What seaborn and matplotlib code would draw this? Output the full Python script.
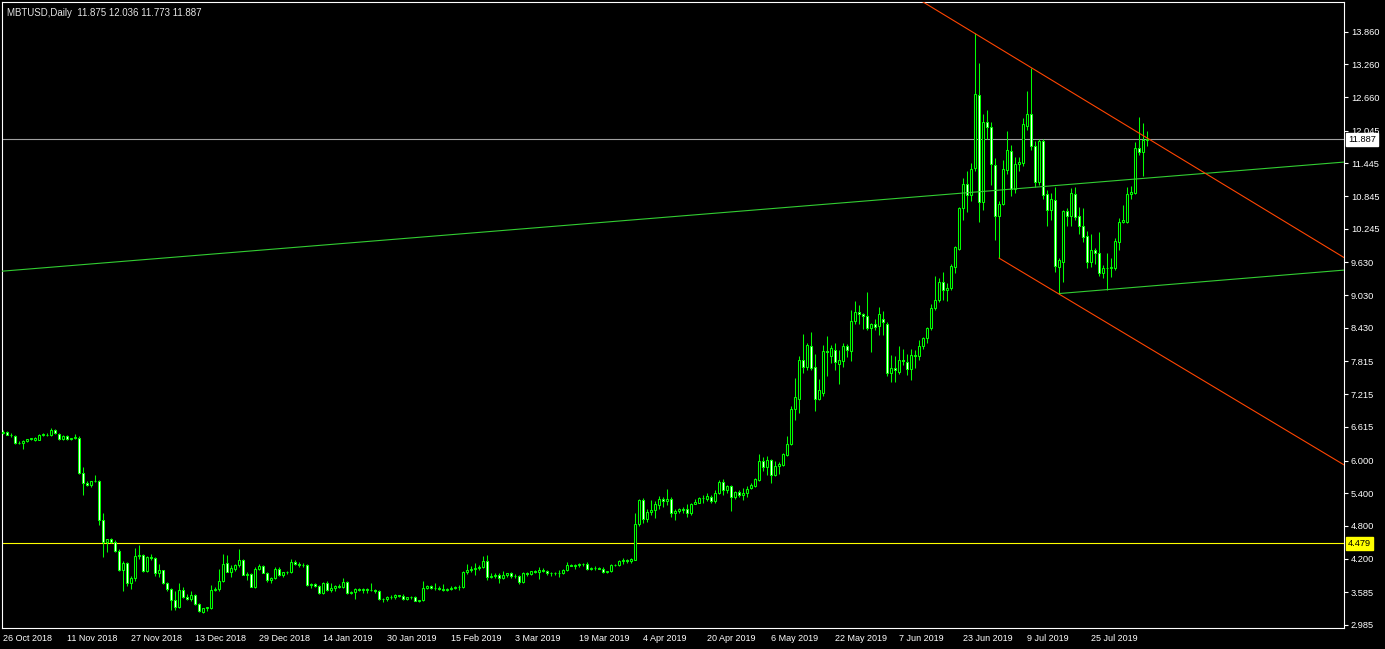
import numpy as np
import pandas as pd
import matplotlib
matplotlib.use("Agg")
import matplotlib.pyplot as plt
import matplotlib.transforms as mtransforms
import seaborn as sns

# header text of the chart window
symbol_text = "MBTUSD,Daily  11.875 12.036 11.773 11.887"

# daily candles, 26 Oct 2018 .. 8 Aug 2019
opens = [
    6.50, 6.53, 6.47, 6.45, 6.32, 6.32, 6.36, 6.39, 6.38, 6.38,
    6.47, 6.47, 6.47, 6.56, 6.49, 6.39, 6.45, 6.39, 6.41, 6.42,
    5.77, 5.59, 5.55, 5.62, 5.63, 4.91, 4.50, 4.56, 4.51, 4.35,
    3.99, 4.13, 3.76, 3.84, 4.25, 4.26, 3.98, 4.24, 4.22, 3.93,
    3.99, 3.76, 3.64, 3.44, 3.32, 3.62, 3.50, 3.46, 3.53, 3.37,
    3.23, 3.29, 3.30, 3.63, 3.64, 3.79, 4.13, 3.96, 4.02, 4.08,
    4.18, 3.91, 3.92, 3.69, 4.02, 4.07, 3.94, 3.81, 3.85, 4.02,
    3.90, 3.95, 3.96, 4.14, 4.11, 4.09, 4.08, 3.72, 3.73, 3.70,
    3.58, 3.75, 3.63, 3.66, 3.70, 3.69, 3.78, 3.58, 3.59, 3.64,
    3.62, 3.65, 3.63, 3.62, 3.60, 3.46, 3.47, 3.50, 3.50, 3.53,
    3.51, 3.46, 3.49, 3.50, 3.43, 3.44, 3.67, 3.70, 3.66, 3.67,
    3.65, 3.63, 3.65, 3.67, 3.69, 3.68, 3.96, 3.99, 4.02, 4.03,
    4.05, 4.16, 3.87, 3.88, 3.90, 3.84, 3.90, 3.93, 3.89, 3.88,
    3.78, 3.93, 3.92, 3.97, 3.96, 3.99, 3.98, 3.93, 3.94, 3.93,
    3.93, 4.00, 4.08, 4.07, 4.09, 4.10, 4.11, 4.02, 4.03, 4.03,
    4.02, 3.95, 3.97, 4.08, 4.09, 4.16, 4.17, 4.15, 4.18, 4.83,
    5.28, 4.92, 5.06, 5.09, 5.19, 5.29, 5.25, 5.29, 5.04, 5.07,
    5.11, 5.11, 5.03, 5.21, 5.23, 5.32, 5.30, 5.33, 5.25, 5.40,
    5.61, 5.46, 5.53, 5.33, 5.42, 5.36, 5.41, 5.50, 5.54, 5.64,
    5.99, 5.89, 6.01, 5.73, 5.90, 5.92, 6.11, 6.30, 6.94, 7.13,
    7.84, 7.72, 8.10, 7.71, 7.12, 7.23, 8.01, 7.92, 8.02, 7.77,
    7.83, 8.10, 8.00, 8.55, 8.73, 8.68, 8.65, 8.42, 8.50, 8.47,
    8.60, 8.50, 7.61, 7.69, 7.63, 7.85, 7.80, 7.68, 7.93, 7.92,
    8.10, 8.24, 8.42, 8.79, 8.94, 9.27, 9.12, 9.16, 9.55, 9.88,
    10.62, 11.07, 10.87, 11.36, 12.70, 10.74, 12.20, 12.11, 11.42, 10.49,
    10.71, 11.32, 11.67, 10.98, 11.43, 11.46, 12.14, 12.35, 11.77, 11.11,
    11.85, 10.88, 10.59, 10.77, 9.55, 9.64, 10.57, 10.49, 10.88, 10.48,
    10.30, 10.11, 9.63, 9.86, 9.80, 9.43, 9.52, 9.53, 9.53, 10.01,
    10.38, 10.38, 10.88, 10.91, 11.73, 11.65, 11.875,
]
highs = [
    6.55, 6.54, 6.50, 6.47, 6.35, 6.37, 6.40, 6.42, 6.44, 6.49,
    6.50, 6.50, 6.60, 6.58, 6.50, 6.46, 6.46, 6.42, 6.49, 6.45,
    5.88, 5.62, 5.63, 5.74, 5.64, 5.03, 4.56, 4.58, 4.54, 4.37,
    4.15, 4.14, 3.88, 4.39, 4.45, 4.28, 4.25, 4.29, 4.24, 4.10,
    4.00, 3.78, 3.66, 3.60, 3.75, 3.68, 3.55, 3.61, 3.55, 3.39,
    3.30, 3.32, 3.72, 3.68, 4.02, 4.29, 4.26, 4.08, 4.10, 4.37,
    4.20, 3.96, 3.93, 4.05, 4.10, 4.09, 3.96, 3.86, 4.05, 4.04,
    3.96, 3.98, 4.20, 4.18, 4.14, 4.12, 4.10, 3.76, 3.76, 3.72,
    3.77, 3.79, 3.75, 3.72, 3.73, 3.84, 3.80, 3.61, 3.66, 3.67,
    3.66, 3.67, 3.75, 3.65, 3.62, 3.48, 3.52, 3.54, 3.56, 3.54,
    3.56, 3.50, 3.51, 3.52, 3.45, 3.79, 3.71, 3.72, 3.75, 3.70,
    3.73, 3.66, 3.70, 3.70, 3.72, 3.97, 4.10, 4.07, 4.12, 4.08,
    4.25, 4.27, 3.93, 3.94, 3.93, 3.97, 3.94, 3.95, 3.92, 3.90,
    3.95, 3.96, 3.98, 4.00, 4.05, 4.03, 4.00, 3.96, 3.96, 4.00,
    4.02, 4.14, 4.11, 4.11, 4.12, 4.13, 4.14, 4.05, 4.06, 4.05,
    4.05, 3.98, 4.10, 4.11, 4.18, 4.21, 4.19, 4.22, 5.04, 5.30,
    5.32, 5.12, 5.28, 5.25, 5.35, 5.34, 5.48, 5.34, 5.12, 5.13,
    5.15, 5.21, 5.23, 5.29, 5.33, 5.37, 5.40, 5.36, 5.46, 5.64,
    5.66, 5.56, 5.55, 5.44, 5.46, 5.49, 5.53, 5.59, 5.68, 6.12,
    6.07, 6.08, 6.03, 6.00, 5.98, 6.13, 6.45, 7.00, 7.52, 7.92,
    8.32, 8.16, 8.36, 7.95, 7.49, 8.12, 8.28, 8.12, 8.15, 8.02,
    8.16, 8.13, 8.76, 8.92, 8.85, 8.71, 9.08, 8.52, 8.60, 8.81,
    8.74, 8.54, 7.93, 7.91, 8.10, 8.04, 7.95, 8.04, 8.02, 8.21,
    8.27, 8.45, 8.87, 9.38, 9.34, 9.45, 9.25, 9.60, 9.93, 10.65,
    11.17, 11.31, 11.45, 13.83, 13.29, 12.36, 12.42, 12.20, 11.55, 10.75,
    11.51, 12.04, 11.78, 11.57, 11.57, 12.27, 12.77, 13.19, 11.85, 11.90,
    11.90, 10.95, 10.90, 11.02, 9.72, 10.60, 10.62, 10.99, 11.02, 10.65,
    10.62, 10.20, 10.16, 9.89, 10.18, 9.58, 9.80, 9.71, 10.07, 10.44,
    10.68, 11.02, 11.03, 11.84, 12.29, 12.18, 12.036,
]
lows = [
    6.48, 6.46, 6.44, 6.30, 6.30, 6.22, 6.34, 6.38, 6.36, 6.37,
    6.45, 6.45, 6.45, 6.49, 6.38, 6.37, 6.38, 6.38, 6.40, 5.76,
    5.37, 5.53, 5.52, 5.60, 4.82, 4.24, 4.33, 4.48, 4.33, 3.98,
    3.60, 3.70, 3.65, 3.80, 4.20, 3.96, 3.95, 4.18, 3.88, 3.87,
    3.74, 3.60, 3.26, 3.26, 3.30, 3.48, 3.44, 3.43, 3.35, 3.22,
    3.20, 3.25, 3.28, 3.60, 3.60, 3.77, 3.95, 3.87, 3.98, 4.05,
    3.90, 3.81, 3.68, 3.67, 4.00, 3.93, 3.78, 3.76, 3.83, 3.88,
    3.87, 3.92, 3.94, 4.08, 4.05, 4.04, 3.70, 3.67, 3.68, 3.56,
    3.55, 3.60, 3.59, 3.60, 3.66, 3.66, 3.56, 3.55, 3.47, 3.60,
    3.58, 3.58, 3.61, 3.58, 3.45, 3.41, 3.43, 3.46, 3.46, 3.50,
    3.45, 3.44, 3.47, 3.42, 3.40, 3.42, 3.64, 3.64, 3.63, 3.62,
    3.61, 3.61, 3.62, 3.64, 3.62, 3.66, 3.92, 3.95, 3.90, 3.99,
    4.03, 3.81, 3.84, 3.84, 3.75, 3.82, 3.87, 3.84, 3.85, 3.74,
    3.76, 3.89, 3.90, 3.93, 3.83, 3.95, 3.91, 3.88, 3.91, 3.86,
    3.92, 3.98, 4.06, 4.02, 4.05, 4.07, 3.99, 4.00, 4.00, 4.01,
    3.94, 3.93, 3.95, 4.06, 4.07, 4.10, 4.13, 4.12, 4.17, 4.80,
    4.85, 4.88, 5.00, 4.94, 5.12, 5.15, 5.19, 4.97, 4.91, 5.04,
    5.03, 4.97, 5.00, 5.20, 5.22, 5.22, 5.25, 5.23, 5.23, 5.38,
    5.37, 5.40, 5.08, 5.29, 5.33, 5.28, 5.33, 5.47, 5.52, 5.62,
    5.80, 5.73, 5.59, 5.71, 5.76, 5.90, 6.09, 6.28, 6.74, 6.87,
    7.61, 7.65, 7.66, 6.90, 7.11, 7.18, 7.55, 7.78, 7.66, 7.41,
    7.72, 7.90, 7.83, 8.50, 8.51, 8.41, 8.39, 7.98, 8.39, 8.30,
    8.30, 7.54, 7.44, 7.44, 7.58, 7.75, 7.57, 7.47, 7.69, 7.84,
    8.04, 8.15, 8.39, 8.75, 8.91, 8.94, 8.93, 9.12, 9.44, 9.85,
    10.40, 10.56, 10.75, 11.30, 10.38, 10.60, 11.90, 11.05, 10.04, 9.71,
    10.68, 11.26, 10.85, 10.90, 11.30, 11.40, 12.05, 11.70, 11.02, 11.05,
    10.80, 10.30, 10.41, 9.45, 9.06, 9.28, 10.30, 10.29, 10.40, 10.16,
    10.00, 9.52, 9.55, 9.61, 9.38, 9.34, 9.12, 9.37, 9.50, 9.86,
    10.35, 10.35, 10.80, 10.88, 11.60, 11.22, 11.773,
]
closes = [
    6.53, 6.47, 6.46, 6.32, 6.33, 6.36, 6.39, 6.41, 6.42, 6.47,
    6.48, 6.47, 6.56, 6.50, 6.39, 6.45, 6.39, 6.41, 6.44, 5.77,
    5.59, 5.56, 5.62, 5.63, 4.91, 4.50, 4.56, 4.50, 4.35, 3.99,
    4.13, 3.76, 3.84, 4.25, 4.26, 3.98, 4.24, 4.22, 3.93, 3.99,
    3.76, 3.64, 3.44, 3.32, 3.62, 3.50, 3.46, 3.53, 3.37, 3.24,
    3.29, 3.31, 3.63, 3.64, 3.79, 4.11, 3.96, 4.03, 4.08, 4.18,
    3.91, 3.92, 3.69, 4.02, 4.07, 3.94, 3.81, 3.85, 4.02, 3.90,
    3.95, 3.96, 4.14, 4.11, 4.09, 4.08, 3.72, 3.73, 3.70, 3.58,
    3.75, 3.63, 3.66, 3.70, 3.69, 3.78, 3.58, 3.59, 3.64, 3.62,
    3.65, 3.63, 3.62, 3.60, 3.46, 3.47, 3.50, 3.50, 3.53, 3.51,
    3.46, 3.49, 3.50, 3.43, 3.44, 3.67, 3.70, 3.66, 3.67, 3.65,
    3.63, 3.65, 3.67, 3.69, 3.68, 3.96, 3.99, 4.02, 4.03, 4.05,
    4.16, 3.87, 3.88, 3.90, 3.84, 3.90, 3.93, 3.89, 3.88, 3.78,
    3.93, 3.92, 3.97, 3.96, 3.99, 3.98, 3.93, 3.94, 3.93, 3.93,
    4.00, 4.08, 4.07, 4.09, 4.10, 4.11, 4.02, 4.03, 4.03, 4.02,
    3.95, 3.97, 4.08, 4.09, 4.16, 4.17, 4.15, 4.19, 4.83, 5.28,
    4.92, 5.06, 5.10, 5.20, 5.29, 5.25, 5.29, 5.04, 5.07, 5.11,
    5.10, 5.03, 5.21, 5.24, 5.32, 5.31, 5.35, 5.25, 5.40, 5.61,
    5.46, 5.53, 5.33, 5.42, 5.36, 5.41, 5.47, 5.55, 5.67, 5.99,
    5.89, 6.01, 5.74, 5.90, 5.94, 6.12, 6.31, 6.94, 7.16, 7.84,
    7.72, 8.12, 7.70, 7.12, 7.29, 8.01, 7.98, 8.06, 7.81, 7.85,
    8.10, 8.03, 8.56, 8.73, 8.68, 8.64, 8.43, 8.50, 8.44, 8.68,
    8.54, 7.61, 7.69, 7.65, 7.85, 7.82, 7.68, 7.93, 7.92, 8.10,
    8.24, 8.42, 8.79, 8.94, 9.27, 9.12, 9.17, 9.56, 9.91, 10.62,
    11.07, 10.87, 11.35, 12.72, 10.74, 12.20, 12.11, 11.43, 10.49, 10.71,
    11.34, 11.69, 10.98, 11.43, 11.47, 12.17, 12.36, 11.77, 11.11, 11.86,
    10.87, 10.60, 10.79, 9.56, 9.67, 10.57, 10.49, 10.90, 10.47, 10.30,
    10.10, 9.63, 9.86, 9.80, 9.43, 9.52, 9.53, 9.55, 10.03, 10.38,
    10.40, 10.88, 10.92, 11.73, 11.65, 11.87, 11.887,
]

# x axis labels, one every 16 bars
date_labels = [
    "26 Oct 2018", "11 Nov 2018", "27 Nov 2018", "13 Dec 2018", "29 Dec 2018",
    "14 Jan 2019", "30 Jan 2019", "15 Feb 2019", "3 Mar 2019", "19 Mar 2019",
    "4 Apr 2019", "20 Apr 2019", "6 May 2019", "22 May 2019", "7 Jun 2019",
    "23 Jun 2019", "9 Jul 2019", "25 Jul 2019",
]
date_step = 16

# right price scale
price_labels = [
    "13.860", "13.260", "12.660", "12.045", "11.445", "10.845", "10.245",
    "9.630", "9.030", "8.430", "7.815", "7.215", "6.615", "6.000",
    "5.400", "4.800", "4.200", "3.585", "2.985",
]

# horizontal levels
bid_price = 11.887
level_price = 4.479

# drawn trend channels: (bar, price) end points
green_top_bars, green_top_prices = [-0.25, 335.25], [9.47, 11.47]
green_bot_bars, green_bot_prices = [264, 335.25], [9.06, 9.49]
red_top_bars, red_top_prices = [220, 335.25], [14.85, 9.72]
red_bot_bars, red_bot_prices = [249, 335.25], [9.71, 5.92]

# ---- style
BG = "black"
FG = "white"
CANDLE = "#00ff00"
CHANNEL_GREEN = "#32cd32"
CHANNEL_RED = "#ff4500"

sns.set_style("dark", {"axes.facecolor": BG, "figure.facecolor": BG,
                       "axes.edgecolor": FG, "axes.grid": False})
plt.rcParams["font.family"] = ["Liberation Sans", "DejaVu Sans"]
plt.rcParams["font.size"] = 6.5

W, H = 1385, 649
fig = plt.figure(figsize=(W / 100, H / 100), dpi=100)
# plot frame in pixels: x 2..1344, y 2..628
ax = fig.add_axes([2 / W, (H - 628) / H, 1342 / W, 626 / H])

df = pd.DataFrame({"open": opens, "high": highs, "low": lows, "close": closes})
df["bar"] = np.arange(len(df))
bull = df["close"] >= df["open"]

# wicks then bodies (bull = black body, bear = white body)
ax.vlines(df["bar"], df["low"], df["high"], color=CANDLE, linewidth=0.75, zorder=2)
body = (df["close"] - df["open"]).abs().clip(lower=0.006)
ax.bar(df["bar"], body, bottom=df[["open", "close"]].min(axis=1), width=0.5,
       color=np.where(bull, "black", "white"), edgecolor=CANDLE,
       linewidth=0.75, zorder=3)

# channels
for xs, ys, col in [(green_top_bars, green_top_prices, CHANNEL_GREEN),
                    (green_bot_bars, green_bot_prices, CHANNEL_GREEN),
                    (red_top_bars, red_top_prices, CHANNEL_RED),
                    (red_bot_bars, red_bot_prices, CHANNEL_RED)]:
    sns.lineplot(x=xs, y=ys, color=col, linewidth=0.8, ax=ax, zorder=4)

# horizontal levels
ax.axhline(bid_price, color="#a0a0a0", linewidth=0.8, zorder=1)
ax.axhline(level_price, color="#ffff00", linewidth=0.8, zorder=1)

ax.set_xlim(-0.25, 335.25)
ax.set_ylim(2.930, 14.404)

# axes look
for sp in ax.spines.values():
    sp.set_color(FG)
    sp.set_linewidth(0.8)

ax.yaxis.tick_right()
ax.set_yticks([float(v) for v in price_labels])
ax.set_yticklabels(price_labels)
ax.set_xticks(np.arange(len(date_labels)) * date_step)
ax.set_xticklabels(date_labels, ha="left")
ax.tick_params(axis="y", colors=FG, length=3, width=0.8, pad=2, labelsize=6.7,
               direction="out")
ax.tick_params(axis="x", colors=FG, length=3, width=0.8, pad=1.5, labelsize=6.5,
               direction="out")
ax.set_xlabel("")
ax.set_ylabel("")

# price tags on the right scale
tag = mtransforms.blended_transform_factory(ax.transAxes, ax.transData)
ax.text(1.0 + 4 / 1342, bid_price, f"{bid_price:.3f}", transform=tag,
        color="black", fontsize=6.7, va="center", ha="left", clip_on=False,
        zorder=10, bbox=dict(boxstyle="square,pad=0.2", fc="white", ec="white"))
ax.text(1.0 + 4 / 1342, level_price, f"{level_price:.3f}", transform=tag,
        color="black", fontsize=6.7, va="center", ha="left", clip_on=False,
        zorder=10, bbox=dict(boxstyle="square,pad=0.2", fc="#ffff00", ec="#ffff00"))

fig.text(7 / W, 1 - 13 / H, symbol_text, color="#e4e4e4", fontsize=7,
         ha="left", va="center")

fig.savefig("out.png", dpi=100, facecolor=BG)
